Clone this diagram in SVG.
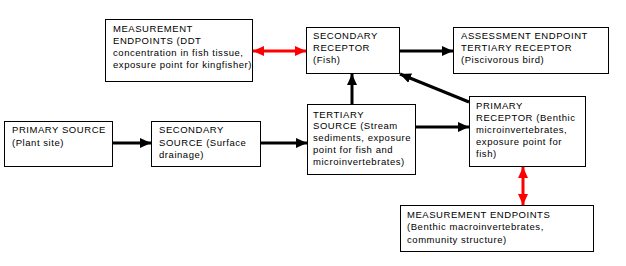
<svg xmlns="http://www.w3.org/2000/svg" width="626" height="266" viewBox="0 0 626 266">
<defs>
<style>
.box{fill:#fff;stroke:#000;stroke-width:1}
text{font-family:"Liberation Sans",Arial,sans-serif;font-size:9.5px;letter-spacing:0.55px;fill:#000}
.blk{stroke:#000;stroke-width:3;fill:none}
.red{stroke:#f00;stroke-width:3;fill:none}
</style>
<marker id="ab" markerUnits="userSpaceOnUse" markerWidth="12" markerHeight="10" refX="11" refY="5" orient="auto"><path d="M0,0 L11,5 L0,10 Z" fill="#000"/></marker>
<marker id="ar" markerUnits="userSpaceOnUse" markerWidth="12" markerHeight="10" refX="11" refY="5" orient="auto"><path d="M0,0 L11,5 L0,10 Z" fill="#f00"/></marker>
<marker id="arS" markerUnits="userSpaceOnUse" markerWidth="12" markerHeight="10" refX="0" refY="5" orient="auto"><path d="M11,0 L0,5 L11,10 Z" fill="#f00"/></marker>
</defs>
<rect width="626" height="266" fill="#fff"/>
<g id="connectors">
<line class="blk" x1="113" y1="143" x2="151" y2="143" marker-end="url(#ab)"/>
<line class="blk" x1="260" y1="143" x2="307" y2="143" marker-end="url(#ab)"/>
<line class="blk" x1="352" y1="104" x2="352" y2="74" marker-end="url(#ab)"/>
<line class="blk" x1="416" y1="127" x2="469" y2="127" marker-end="url(#ab)"/>
<line class="blk" x1="399" y1="51" x2="453" y2="51" marker-end="url(#ab)"/>
<line class="blk" x1="469" y1="102" x2="400" y2="74" marker-end="url(#ab)"/>
<line class="red" x1="253" y1="51" x2="306" y2="51" marker-start="url(#arS)" marker-end="url(#ar)"/>
<line class="red" x1="523" y1="167" x2="523" y2="205" marker-start="url(#arS)" marker-end="url(#ar)"/>
</g>
<g id="measurement-fish">
<rect class="box" x="105.5" y="19.5" width="147" height="62"/>
<text x="113" y="32">MEASUREMENT</text>
<text x="113" y="44">ENDPOINTS (DDT</text>
<text x="113" y="56">concentration in fish tissue,</text>
<text x="113" y="68">exposure point for kingfisher)</text>
</g>
<g id="secondary-receptor">
<rect class="box" x="306.5" y="27.5" width="93" height="46"/>
<text x="313" y="39">SECONDARY</text>
<text x="313" y="51">RECEPTOR</text>
<text x="313" y="63">(Fish)</text>
</g>
<g id="assessment-endpoint">
<rect class="box" x="453.5" y="27.5" width="155" height="46"/>
<text x="461" y="39">ASSESSMENT ENDPOINT</text>
<text x="461" y="51">TERTIARY RECEPTOR</text>
<text x="461" y="63">(Piscivorous bird)</text>
</g>
<g id="primary-source">
<rect class="box" x="4.5" y="121.5" width="108" height="45"/>
<text x="12" y="133">PRIMARY SOURCE</text>
<text x="12" y="146">(Plant site)</text>
</g>
<g id="secondary-source">
<rect class="box" x="151.5" y="121.5" width="109" height="45"/>
<text x="159" y="133">SECONDARY</text>
<text x="159" y="145.5">SOURCE (Surface</text>
<text x="159" y="158">drainage)</text>
</g>
<g id="tertiary-source">
<rect class="box" x="307.5" y="104.5" width="108" height="70"/>
<text x="313" y="117.5">TERTIARY</text>
<text x="313" y="129">SOURCE (Stream</text>
<text x="313" y="141">sediments, exposure</text>
<text x="313" y="153">point for fish and</text>
<text x="313" y="165">microinvertebrates)</text>
</g>
<g id="primary-receptor">
<rect class="box" x="469.5" y="96.5" width="116" height="70"/>
<text x="476" y="109">PRIMARY</text>
<text x="476" y="121">RECEPTOR (Benthic</text>
<text x="476" y="133">microinvertebrates,</text>
<text x="476" y="145">exposure point for</text>
<text x="476" y="157">fish)</text>
</g>
<g id="measurement-benthic">
<rect class="box" x="400.5" y="205.5" width="193" height="46"/>
<text x="407" y="218">MEASUREMENT ENDPOINTS</text>
<text x="407" y="230">(Benthic macroinvertebrates,</text>
<text x="407" y="243">community structure)</text>
</g>
</svg>
